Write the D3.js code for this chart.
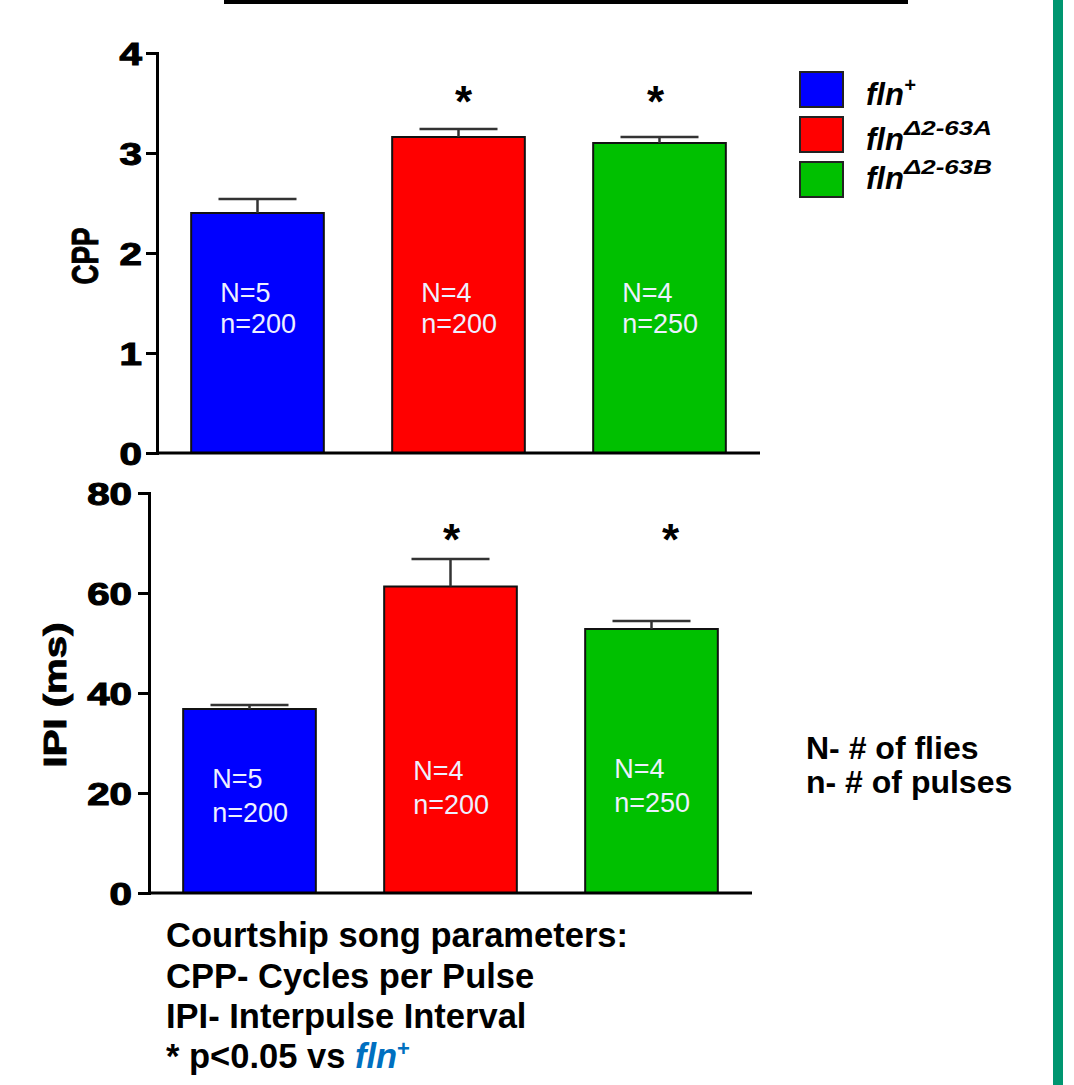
<!DOCTYPE html>
<html>
<head>
<meta charset="utf-8">
<script src="https://cdn.jsdelivr.net/npm/d3@7"></script>
<style>
  body { margin: 0; background: #fff; }
  svg { display: block; font-family: "Liberation Sans", Arial, sans-serif; }
</style>
</head>
<body>
<svg id="chart" width="1074" height="1085"></svg>
<script>
// data
var genotypes = ["fln+", "flnA", "flnB"];
var barColors = ["#0000ff", "#ff0000", "#00c000"];
var cppMeans = [2.40, 3.16, 3.10];
var cppErr = [0.14, 0.08, 0.06];
var ipiMeans = [36.8, 61.3, 52.8];
var ipiErr = [0.8, 5.5, 1.6];
var signif = [false, true, true];
var flyCounts = ["N=5", "N=4", "N=4"];
var pulseCounts = ["n=200", "n=200", "n=250"];
var cppTicks = [0, 1, 2, 3, 4];
var ipiTicks = [0, 20, 40, 60, 80];
var legendSup = ["+", "\u03942-63A", "\u03942-63B"];
var notes = ["Courtship song parameters:", "CPP- Cycles per Pulse", "IPI- Interpulse Interval"];
var countNotes = ["N- # of flies", "n- # of pulses"];

var svg = d3.select("#chart");

// cut-off title underline at the very top + green slide border
svg.append("rect").attr("x", 224).attr("y", 0).attr("width", 684).attr("height", 4).attr("fill", "#000");
svg.append("rect").attr("x", 1053).attr("y", 0).attr("width", 10).attr("height", 1085).attr("fill", "#009670");

function drawPanel(p) {
    var x = d3.scaleBand().domain(genotypes).range([p.left, p.right]).paddingInner(0.34).paddingOuter(0.17);
    var y = d3.scaleLinear().domain([0, p.max]).range([p.bottom, p.top]);
    var g = svg.append("g");

    // bars
    g.selectAll("rect.bar").data(p.means).enter().append("rect")
        .attr("class", "bar")
        .attr("x", (d, i) => x(genotypes[i]))
        .attr("y", d => y(d))
        .attr("width", x.bandwidth())
        .attr("height", d => p.bottom - y(d))
        .attr("fill", (d, i) => barColors[i])
        .attr("stroke", "#111").attr("stroke-width", 2);

    // error bars (upper only), stars and counts
    p.means.forEach(function (m, i) {
        var cx = x(genotypes[i]) + x.bandwidth() / 2;
        g.append("line").attr("x1", cx).attr("x2", cx)
            .attr("y1", y(m)).attr("y2", y(m + p.err[i]))
            .attr("stroke", "#333").attr("stroke-width", 2.5);
        g.append("line").attr("x1", cx - 39).attr("x2", cx + 39)
            .attr("y1", y(m + p.err[i])).attr("y2", y(m + p.err[i]))
            .attr("stroke", "#333").attr("stroke-width", 2.5);
        if (signif[i]) {
            g.append("text").attr("x", cx + p.starDx[i]).attr("y", y(p.starLevel) + 20)
                .attr("text-anchor", "middle").attr("font-size", 44).attr("font-weight", "bold")
                .text("*");
        }
        var lx = x(genotypes[i]) + p.labelDx;
        g.append("text").attr("x", lx).attr("y", y(p.labelLevels[0]) + p.labelDy[i])
            .attr("font-size", 27).attr("fill", "#eef0ff").text(flyCounts[i]);
        g.append("text").attr("x", lx).attr("y", y(p.labelLevels[1]) + p.labelDy[i])
            .attr("font-size", 27).attr("fill", "#eef0ff").text(pulseCounts[i]);
    });

    // axes
    var yAxis = d3.axisLeft(y).tickValues(p.ticks).tickSize(11).tickPadding(0).tickFormat(d3.format("d"));
    var ya = g.append("g").attr("transform", "translate(" + p.left + ",0)").call(yAxis);
    ya.select(".domain").attr("stroke", "#000").attr("stroke-width", 3);
    ya.selectAll(".tick line").attr("stroke", "#000").attr("stroke-width", 3);
    ya.selectAll(".tick text")
        .attr("x", 0).attr("dy", "0.36em")
        .attr("transform", "translate(" + (-p.gap) + ",0) scale(1.3,1)")
        .attr("font-size", 31).attr("font-weight", "bold").attr("fill", "#000")
        .attr("stroke", "#000").attr("stroke-width", 1.1)
        .attr("font-family", "Liberation Sans, Arial, sans-serif");

    g.append("line").attr("x1", p.left).attr("x2", p.right)
        .attr("y1", p.bottom).attr("y2", p.bottom)
        .attr("stroke", "#000").attr("stroke-width", 3);

    // y axis title (stretched like the source picture)
    g.append("text")
        .attr("transform", "translate(" + p.titleX + "," + p.titleY + ") rotate(-90)")
        .attr("text-anchor", "middle").attr("font-weight", "bold")
        .attr("font-size", p.titleSize)
        .attr("stroke", "#000").attr("stroke-width", 0.9)
        .attr("textLength", p.titleLen).attr("lengthAdjust", "spacingAndGlyphs")
        .text(p.title);
}

drawPanel({
    left: 157, right: 760, top: 53, bottom: 453, max: 4,
    means: cppMeans, err: cppErr, ticks: cppTicks, gap: 15,
    starLevel: 3.56, starDx: [0, 5, -4],
    labelDx: 29, labelLevels: [1.51, 1.20], labelDy: [0, 0, 0],
    title: "CPP", titleX: 98, titleY: 256, titleSize: 36, titleLen: 57
});

drawPanel({
    left: 149, right: 752, top: 493, bottom: 893, max: 80,
    means: ipiMeans, err: ipiErr, ticks: ipiTicks, gap: 17,
    starLevel: 71.6, starDx: [0, 1, 19],
    labelDx: 29, labelLevels: [21.0, 14.2], labelDy: [0, -8, -10],
    title: "IPI (ms)", titleX: 66, titleY: 695, titleSize: 32, titleLen: 145
});

// legend
var leg = svg.append("g");
genotypes.forEach(function (gname, i) {
    var top = [72, 117, 162][i];
    leg.append("rect").attr("x", 800).attr("y", top).attr("width", 43).attr("height", 35)
        .attr("fill", barColors[i]).attr("stroke", "#222").attr("stroke-width", 2);
    var t = leg.append("text").attr("x", 866).attr("y", top + 33 - (i === 2 ? 6 : 0))
        .attr("font-size", 31).attr("font-weight", "bold").attr("font-style", "italic");
    t.append("tspan").text("fln");
    t.append("tspan").attr("dy", i === 0 ? -13 : -15)
        .attr("font-size", i === 0 ? 20 : 21)
        .attr("textLength", i === 0 ? null : 88).attr("lengthAdjust", "spacingAndGlyphs")
        .text(legendSup[i]);
});

// note text below the charts
var nt = svg.append("g").attr("font-size", 34.5).attr("font-weight", "bold");
notes.forEach(function (s, i) {
    nt.append("text").attr("x", 166).attr("y", 947 + i * 40.5).text(s);
});
var last = nt.append("text").attr("x", 166).attr("y", 1068);
last.append("tspan").text("* p<0.05 vs ");
last.append("tspan").attr("fill", "#0070c0").attr("font-style", "italic").text("fln");
last.append("tspan").attr("fill", "#0070c0").attr("font-size", 22).attr("dy", -12).text("+");

var cn = svg.append("g").attr("font-size", 32).attr("font-weight", "bold");
countNotes.forEach(function (s, i) {
    cn.append("text").attr("x", 806).attr("y", 759 + i * 34).text(s);
});
</script>
</body>
</html>
